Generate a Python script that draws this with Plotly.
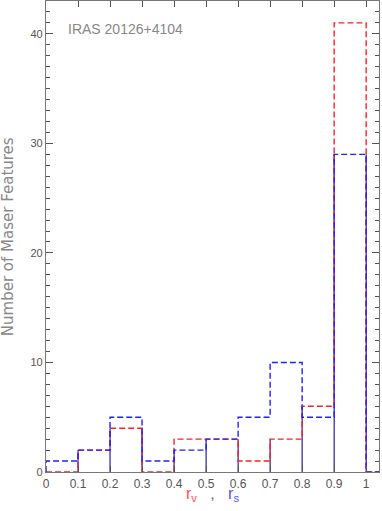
import plotly.graph_objects as go

bin_edges = [0.0, 0.1, 0.2, 0.3, 0.4, 0.5, 0.6, 0.7, 0.8, 0.9, 1.0]
r_v_counts = [0, 2, 4, 0, 3, 3, 1, 3, 6, 41]
r_s_counts = [1, 2, 5, 1, 2, 3, 5, 10, 5, 29]
x_max = 1.04
x_ticks = [0, 0.1, 0.2, 0.3, 0.4, 0.5, 0.6, 0.7, 0.8, 0.9, 1]
x_tick_text = ["0", "0.1", "0.2", "0.3", "0.4", "0.5", "0.6", "0.7", "0.8", "0.9", "1"]
y_ticks = [0, 10, 20, 30, 40]

FONT = "Liberation Sans, Arial, sans-serif"
WIDE = "DejaVu Sans, Verdana, sans-serif"


def step_xy(counts):
    xs = [bin_edges[0]] + bin_edges[:-1] + [bin_edges[-1], x_max]
    ys = [0] + list(counts) + [0, 0]
    return xs, ys


# shared vertical edges (where both histograms overlap) drawn solid
padded_v = [0] + r_v_counts + [0]
padded_s = [0] + r_s_counts + [0]
vx, vy = [], []
for i, e in enumerate(bin_edges):
    h = min(max(padded_v[i], padded_v[i + 1]), max(padded_s[i], padded_s[i + 1]))
    if h > 0:
        vx += [e, e, None]
        vy += [0, h, None]

fig = go.Figure()
fig.add_trace(go.Scatter(x=vx, y=vy, mode="lines", line=dict(color="#22229a", width=1.2),
                         hoverinfo="skip", showlegend=False))
xs, ys = step_xy(r_v_counts)
fig.add_trace(go.Scatter(x=xs, y=ys, mode="lines", name="r_v",
                         line=dict(shape="hv", color="#ff2020", width=1.4, dash="6px,3px"), showlegend=False))
xs, ys = step_xy(r_s_counts)
fig.add_trace(go.Scatter(x=xs, y=ys, mode="lines", name="r_s",
                         line=dict(shape="hv", color="#2020ff", width=1.4, dash="6px,3px"), showlegend=False))

axis_common = dict(showgrid=False, zeroline=False, showline=True, linecolor="#777777", linewidth=1.2,
                   mirror="allticks", ticks="inside", tickcolor="#555555", automargin=False)

fig.update_xaxes(range=[0, x_max], tickvals=x_ticks, ticktext=x_tick_text, ticklen=6,
                 tickfont=dict(family=FONT, size=12, color="#555555"), **axis_common)
fig.update_yaxes(range=[0, 43], tickvals=y_ticks, ticklen=7,
                 tickfont=dict(family=FONT, size=11, color="#555555"),
                 minor=dict(dtick=1, ticks="inside", ticklen=4, tickcolor="#555555"),
                 **axis_common)

fig.add_annotation(text="<span style='color:#ff5050'>r<sub>v</sub></span>   ,   "
                        "<span style='color:#5050ff'>r<sub>s</sub></span>",
                   xref="paper", yref="paper", x=0.5, y=-0.024, xanchor="center", yanchor="top",
                   showarrow=False, font=dict(family=FONT, size=16, color="#777777"))
fig.add_annotation(text="Number of Maser Features", xref="paper", yref="paper",
                   x=-0.115, y=0.5, textangle=-90, xanchor="center", yanchor="middle",
                   showarrow=False, font=dict(family=WIDE, size=15, color="#888888"))
fig.add_annotation(text="IRAS 20126+4104", xref="paper", yref="paper", x=0.06, y=0.94,
                   xanchor="left", yanchor="middle", showarrow=False,
                   font=dict(family=FONT, size=14, color="#888888"))

fig.update_layout(width=382, height=511, margin=dict(l=46, r=3, t=1, b=39),
                  plot_bgcolor="white", paper_bgcolor="white")

fig.write_html("out.html", config={"displayModeBar": False},
               post_script="document.body.style.margin='0px';")
